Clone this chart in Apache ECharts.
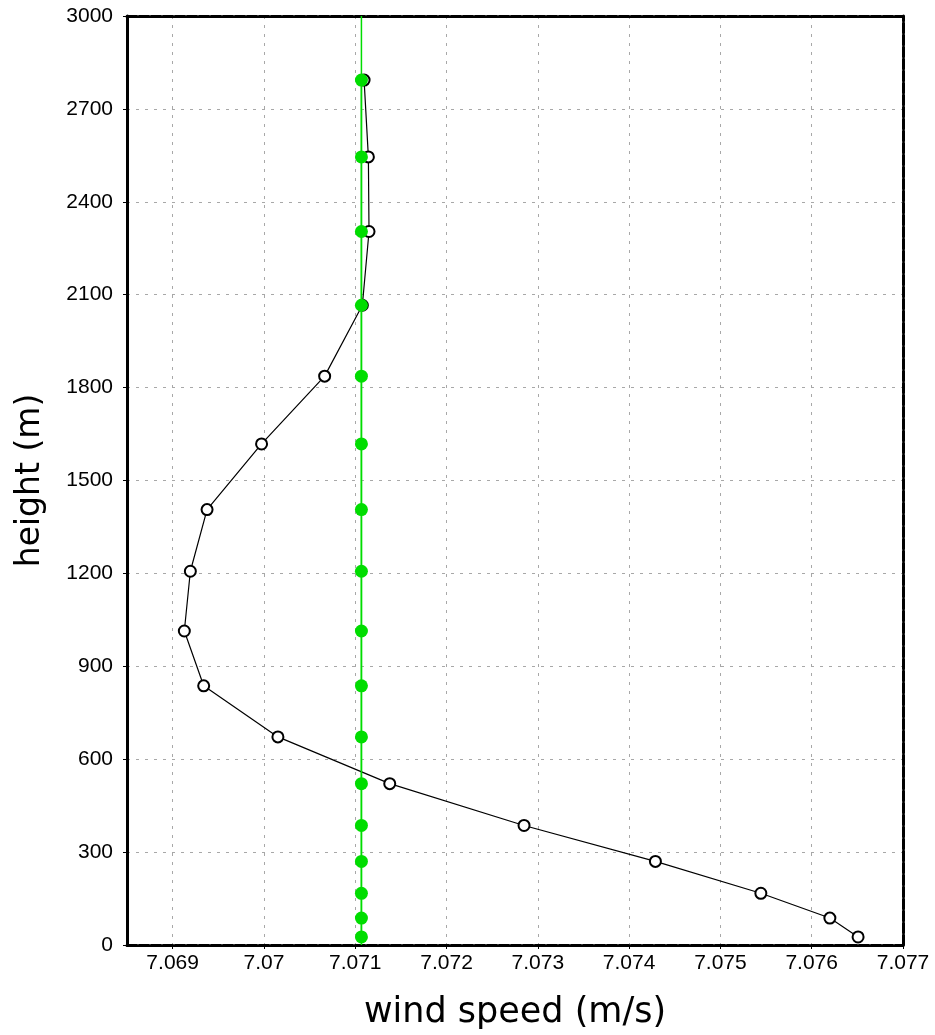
<!DOCTYPE html>
<html>
<head>
<meta charset="utf-8">
<script src="https://cdn.jsdelivr.net/npm/echarts@6/dist/echarts.min.js"></script>
<style>html,body{margin:0;padding:0;background:#fff}#chart{width:935px;height:1035px}</style>
</head>
<body>
<div id="chart"></div>
<script>
const heights = [26, 87, 167, 270, 386, 521, 672, 837, 1014, 1207, 1406, 1618, 1837, 2066, 2304, 2545, 2793];
const modelSpeed = [7.076508, 7.076199, 7.075443, 7.074288, 7.072849, 7.071378, 7.070153, 7.069340, 7.069128,
  7.069194, 7.069377, 7.069974, 7.070665, 7.071078, 7.071151, 7.071144, 7.071097];
const refSpeed = [7.0710678, 7.0710678, 7.0710678, 7.0710678, 7.0710678, 7.0710678, 7.0710678, 7.0710678, 7.0710678,
  7.0710678, 7.0710678, 7.0710678, 7.0710678, 7.0710678, 7.0710678, 7.0710678, 7.0710678];
const refLineSpeed = 7.0710678;
const xTicks = [7.069, 7.070, 7.071, 7.072, 7.073, 7.074, 7.075, 7.076, 7.077];
const xTickLabels = ['7.069', '7.07', '7.071', '7.072', '7.073', '7.074', '7.075', '7.076', '7.077'];
const xRange = [7.0685, 7.077];
const yRange = [0, 3000];

const chart = echarts.init(document.getElementById('chart'));
const grid = { left: 127, right: 32, top: 16, bottom: 87 };
const gridLine = { show: true, lineStyle: { color: '#a8a8a8', width: 1, type: [3, 6] } };
const labelFont = { fontFamily: 'Liberation Sans', fontSize: 21, color: '#000' };
chart.setOption({
  animation: false,
  backgroundColor: '#fff',
  grid: grid,
  xAxis: [{
    type: 'value', min: xRange[0], max: xRange[1], position: 'bottom',
    name: 'wind speed (m/s)', nameLocation: 'middle', nameGap: 50,
    nameTextStyle: { fontFamily: 'DejaVu Sans', fontSize: 35, color: '#000' },
    axisLine: { show: true, onZero: false, lineStyle: { color: '#000', width: 3, type: [10, 2] } },
    axisTick: { show: true, length: 4, customValues: xTicks, lineStyle: { color: '#000', width: 1 } },
    axisLabel: Object.assign({ margin: 8, customValues: xTicks,
      formatter: v => { const i = xTicks.findIndex(t => Math.abs(t - v) < 1e-9); return i >= 0 ? xTickLabels[i] : ''; } }, labelFont),
    splitLine: Object.assign({ customValues: xTicks }, gridLine)
  }, {
    type: 'value', min: xRange[0], max: xRange[1], position: 'top',
    axisLine: { show: true, onZero: false, lineStyle: { color: '#000', width: 3, type: [10, 2] } },
    axisTick: { show: false }, axisLabel: { show: false }, splitLine: { show: false }
  }],
  yAxis: [{
    type: 'value', min: yRange[0], max: yRange[1], interval: 300, position: 'left',
    name: 'height (m)', nameLocation: 'middle', nameGap: 80, nameRotate: 90,
    nameTextStyle: { fontFamily: 'DejaVu Sans', fontSize: 33, color: '#000' },
    axisLine: { show: true, onZero: false, lineStyle: { color: '#000', width: 3 } },
    axisTick: { show: true, length: 4, lineStyle: { color: '#000', width: 1 } },
    axisLabel: Object.assign({ margin: 14, formatter: v => String(v) }, labelFont),
    splitLine: gridLine
  }, {
    type: 'value', min: yRange[0], max: yRange[1], interval: 300, position: 'right',
    axisLine: { show: true, onZero: false, lineStyle: { color: '#000', width: 3, type: [10, 2] } },
    axisTick: { show: false }, axisLabel: { show: false }, splitLine: { show: false }
  }],
  series: [{
    type: 'line', name: 'reference line',
    data: [[refLineSpeed, yRange[0]], [refLineSpeed, yRange[1]]],
    symbol: 'none', silent: true,
    lineStyle: { color: '#00dd00', width: 1.5 },
    z: 2
  }, {
    type: 'line', name: 'model',
    data: modelSpeed.map((s, i) => [s, heights[i]]),
    symbol: 'emptyCircle', symbolSize: 11, showSymbol: true,
    lineStyle: { color: '#000', width: 1.2 },
    itemStyle: { color: '#000', borderColor: '#000', borderWidth: 1.5 },
    z: 3
  }, {
    type: 'line', name: 'reference',
    data: refSpeed.map((s, i) => [s, heights[i]]),
    symbol: 'circle', symbolSize: 13, showSymbol: true,
    lineStyle: { color: '#00dd00', width: 1.5 },
    itemStyle: { color: '#00dd00' },
    z: 4
  }]
});
</script>
</body>
</html>
